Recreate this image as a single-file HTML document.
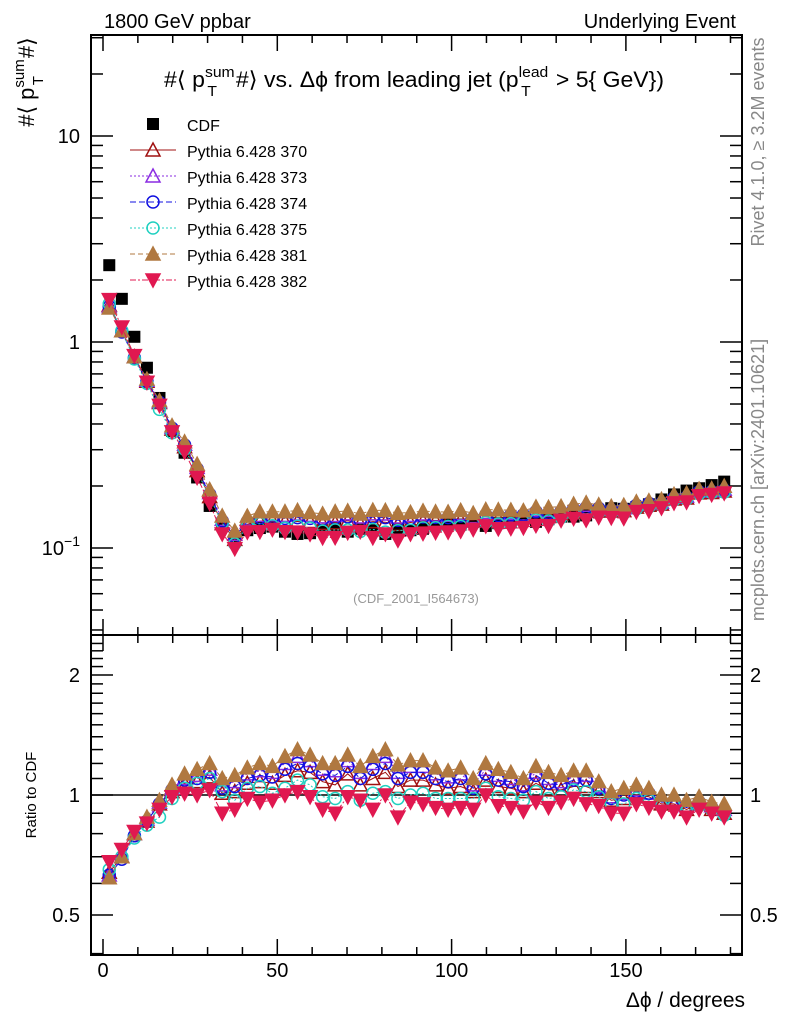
<!DOCTYPE html>
<html><head><meta charset="utf-8"><style>
body{margin:0;background:#fff;}
svg{display:block;font-family:"Liberation Sans",Arial,sans-serif;}
</style></head><body>
<svg id="chart" width="786" height="1024" viewBox="0 0 786 1024">
<text x="104" y="28" font-size="20">1800 GeV ppbar</text>
<text x="736" y="28" font-size="20" text-anchor="end">Underlying Event</text>
<text x="414" y="87" font-size="22" text-anchor="middle" textLength="500" lengthAdjust="spacingAndGlyphs">#⟨ p<tspan font-size="15" dy="-10">sum</tspan><tspan font-size="15" dx="-26" dy="19">T</tspan><tspan dy="-9" dx="18">#⟩ vs. Δϕ from leading jet  (p</tspan><tspan font-size="15" dy="-10">lead</tspan><tspan font-size="15" dx="-26" dy="19">T</tspan><tspan dy="-9" dx="18"> &gt; 5{ GeV})</tspan></text>
<text transform="translate(34,82) rotate(-90)" font-size="22" text-anchor="middle">#⟨ p<tspan font-size="15" dy="-10">sum</tspan><tspan font-size="15" dx="-26" dy="19">T</tspan><tspan dy="-9" dx="18">#⟩</tspan></text>
<text transform="translate(36,795) rotate(-90)" font-size="15" text-anchor="middle">Ratio to CDF</text>
<text x="745" y="1007" font-size="21" text-anchor="end">Δϕ / degrees</text>
<text transform="translate(764,142) rotate(-90)" font-size="18" fill="#888" text-anchor="middle">Rivet 4.1.0, ≥ 3.2M events</text>
<text transform="translate(764,480) rotate(-90)" font-size="18" fill="#888" text-anchor="middle">mcplots.cern.ch [arXiv:2401.10621]</text>
<text x="416" y="603" font-size="13" fill="#999" text-anchor="middle">(CDF_2001_I564673)</text>
<g id="axes"></g>
<g id="marks"></g>
<g id="legend"></g>
</svg>
<script>
const xCenters=[1.8,5.4,9,12.6,16.2,19.8,23.4,27,30.6,34.2,37.8,41.4,45,48.6,52.2,55.8,59.4,63,66.6,70.2,73.8,77.4,81,84.6,88.2,91.8,95.4,99,102.6,106.2,109.8,113.4,117,120.6,124.2,127.8,131.4,135,138.6,142.2,145.8,149.4,153,156.6,160.2,163.8,167.4,171,174.6,178.2];
const cdfValues=[2.36,1.62,1.06,0.75,0.535,0.37,0.29,0.22,0.16,0.13,0.108,0.122,0.125,0.127,0.12,0.117,0.118,0.122,0.125,0.12,0.124,0.122,0.117,0.124,0.122,0.124,0.128,0.13,0.13,0.134,0.128,0.132,0.134,0.138,0.134,0.138,0.142,0.142,0.144,0.15,0.156,0.155,0.158,0.163,0.172,0.182,0.19,0.195,0.202,0.21];
const ratio370=[0.64,0.70,0.80,0.86,0.95,1.02,1.07,1.08,1.11,1.01,1.02,1.07,1.08,1.07,1.12,1.15,1.14,1.08,1.06,1.13,1.06,1.10,1.14,1.05,1.09,1.09,1.06,1.04,1.05,1.02,1.09,1.05,1.04,1.02,1.07,1.03,1.03,1.05,1.05,1.02,0.97,0.98,1.00,0.99,0.95,0.95,0.92,0.95,0.92,0.90];
const ratio373=[0.63,0.70,0.80,0.87,0.96,1.04,1.10,1.12,1.16,1.06,1.08,1.13,1.15,1.14,1.20,1.25,1.22,1.16,1.15,1.22,1.14,1.20,1.25,1.14,1.18,1.18,1.13,1.11,1.13,1.06,1.16,1.12,1.10,1.06,1.14,1.10,1.08,1.11,1.12,1.05,0.99,1.01,1.03,1.01,0.97,0.97,0.94,0.97,0.94,0.92];
const ratio374=[0.63,0.69,0.79,0.86,0.95,1.03,1.09,1.10,1.14,1.04,1.05,1.10,1.12,1.11,1.16,1.20,1.18,1.13,1.12,1.18,1.10,1.16,1.20,1.10,1.14,1.14,1.10,1.08,1.10,1.04,1.13,1.09,1.08,1.05,1.12,1.07,1.06,1.09,1.09,1.04,0.98,1.00,1.02,1.01,0.96,0.96,0.93,0.96,0.93,0.91];
const ratio375=[0.65,0.70,0.78,0.84,0.88,0.98,1.04,1.07,1.10,1.02,0.97,1.04,1.05,1.01,1.04,1.09,1.06,0.99,0.98,1.02,0.97,1.01,1.02,0.98,1.00,1.01,0.98,0.98,0.98,0.98,1.04,0.99,0.98,0.97,1.02,0.98,0.99,1.03,1.02,0.99,0.95,0.95,0.98,0.97,0.94,0.94,0.91,0.94,0.92,0.89];
const ratio381=[0.62,0.70,0.80,0.88,0.97,1.06,1.13,1.16,1.20,1.10,1.12,1.17,1.20,1.18,1.25,1.30,1.26,1.20,1.20,1.26,1.18,1.25,1.30,1.19,1.22,1.22,1.17,1.15,1.17,1.10,1.20,1.16,1.14,1.10,1.18,1.14,1.12,1.15,1.15,1.08,1.02,1.04,1.06,1.04,1.00,1.00,0.97,0.99,0.96,0.95];
const ratio382=[0.68,0.73,0.81,0.85,0.92,0.99,1.01,1.00,1.03,0.90,0.92,0.98,0.96,0.97,1.00,1.02,0.99,0.92,0.90,0.99,0.97,0.92,1.00,0.88,0.96,0.95,0.93,0.92,0.93,0.92,1.00,0.94,0.93,0.91,0.96,0.93,0.96,0.98,0.95,0.94,0.90,0.90,0.95,0.93,0.91,0.91,0.88,0.92,0.90,0.88];
const seriesNames=["Pythia 6.428 370","Pythia 6.428 373","Pythia 6.428 374","Pythia 6.428 375","Pythia 6.428 381","Pythia 6.428 382"];
const xTicks=[0,50,100,150];
const mainYTicks=[10,1,0.1];
const ratioTicks=[2,1,0.5];

const NS="http://www.w3.org/2000/svg";
const L=91,R=742,T1=35,B1=635,T2=635,B2=955;
const xs=v=>103+(v)*3.486;
const ym=v=>342-206*Math.log10(v);
const yr=v=>795-398.6*Math.log10(v);
function mk(tag,attrs,parent){const e=document.createElementNS(NS,tag);for(const k in attrs)e.setAttribute(k,attrs[k]);parent.appendChild(e);return e;}
const axes=document.getElementById('axes'),marks=document.getElementById('marks'),legend=document.getElementById('legend');

let f1=mk('rect',{x:L,y:T1,width:R-L,height:B1-T1,fill:'none',stroke:'#000','stroke-width':2},axes);


let f2=mk('rect',{x:L,y:T2,width:R-L,height:B2-T2,fill:'none',stroke:'#000','stroke-width':2},axes);


for(let v=0;v<=180;v+=10){
  const x=xs(v),big=v%50===0,len=big?16:8;
  [[T1,1],[B1,-1],[T2,1],[B2,-1]].forEach(([y,d])=>{mk('line',{x1:x,x2:x,y1:y,y2:y+d*len,stroke:'#000','stroke-width':1.5},axes);});
}
xTicks.forEach(v=>{const t=mk('text',{x:xs(v),y:977,'font-size':20,'text-anchor':'middle'},axes);t.textContent=v;

});
for(let d=-2;d<=1;d++){for(let m=1;m<=9;m++){const v=m*Math.pow(10,d);const y=ym(v);if(y<T1||y>B1)continue;const len=m===1?22:12;
mk('line',{x1:L,x2:L+len,y1:y,y2:y,stroke:'#000','stroke-width':1.5},axes);mk('line',{x1:R,x2:R-len,y1:y,y2:y,stroke:'#000','stroke-width':1.5},axes);}}
mainYTicks.forEach(v=>{const t=mk('text',{x:80,y:ym(v)+7,'font-size':20,'text-anchor':'end'},axes);
if(v===0.1){t.textContent='10';const s=mk('tspan',{'font-size':14,dy:-9},t);s.textContent='−1';}else t.textContent=v;

});
for(let v=0.4;v<=2.5;v+=0.1){const y=yr(v);if(y<T2||y>B2)continue;const r=Math.round(v*10);const big=(r===5||r===10||r===20);const len=big?22:12;
mk('line',{x1:L,x2:L+len,y1:y,y2:y,stroke:'#000','stroke-width':1.5},axes);mk('line',{x1:R,x2:R-len,y1:y,y2:y,stroke:'#000','stroke-width':1.5},axes);}
ratioTicks.forEach(v=>{[[80,'end'],[750,'start']].forEach(([x,a])=>{const t=mk('text',{x:x,y:yr(v)+7,'font-size':20,'text-anchor':a},axes);t.textContent=v;

});});
mk('line',{x1:L,x2:R,y1:yr(1),y2:yr(1),stroke:'#000','stroke-width':1.5},axes);

const styles=[
 {c:'#a01010',shape:'tri',fill:'none',dash:''},
 {c:'#8a2be2',shape:'tri',fill:'none',dash:'2,2'},
 {c:'#1010e0',shape:'circ',fill:'none',dash:'6,3'},
 {c:'#20d0c0',shape:'circ',fill:'none',dash:'2,2'},
 {c:'#b07840',shape:'tri',fill:'#b07840',dash:'5,3'},
 {c:'#e01850',shape:'tridown',fill:'#e01850',dash:'6,2,2,2'}];
function marker(shape,x,y,st,parent,name){
 let e;
 if(shape==='tri')e=mk('polygon',{points:`${x},${y-7} ${x-7},${y+6} ${x+7},${y+6}`,fill:st.fill,stroke:st.c,'stroke-width':1.5},parent);
 else if(shape==='tridown')e=mk('polygon',{points:`${x},${y+7} ${x-7},${y-6} ${x+7},${y-6}`,fill:st.fill,stroke:st.c,'stroke-width':1.5},parent);
 else if(shape==='circ')e=mk('circle',{cx:x,cy:y,r:6,fill:'none',stroke:st.c,'stroke-width':1.5},parent);
 else e=mk('rect',{x:x-6,y:y-6,width:12,height:12,fill:'#000'},parent);
 
 
 return e;
}
cdfValues.forEach((v,i)=>marker('sq',xs(xCenters[i]),ym(v),{},marks,'cdf-point'));
const ratios=[ratio370,ratio373,ratio374,ratio375,ratio381,ratio382];
ratios.forEach((rs,si)=>{
 const st=styles[si];
 const mainPts=rs.map((r,i)=>[xs(xCenters[i]),ym(r*cdfValues[i])]);
 const ratPts=rs.map((r,i)=>[xs(xCenters[i]),yr(r)]);
 [mainPts,ratPts].forEach((pts,pi)=>{
  const pl=mk('polyline',{points:pts.map(p=>p.join(',')).join(' '),fill:'none',stroke:st.c,'stroke-width':1,'stroke-dasharray':st.dash},marks);
  
  
  pts.forEach(p=>marker(st.shape,p[0],p[1],st,marks,(pi?'ratio-point-':'mc-point-')+seriesNames[si].split(' ').pop()));
 });
});
const ly0=124;
marker('sq',153,ly0,{},legend,'legend-cdf-marker');
let lt=mk('text',{x:187,y:ly0+7,'font-size':16},legend);lt.textContent='CDF';


seriesNames.forEach((n,i)=>{const y=ly0+26*(i+1),st=styles[i];
 const ln=mk('line',{x1:130,x2:176,y1:y,y2:y,stroke:st.c,'stroke-width':1,'stroke-dasharray':st.dash},legend);
 
 
 marker(st.shape,153,y,st,legend,'legend-marker');
 const t=mk('text',{x:187,y:y+7,'font-size':16},legend);t.textContent=n;
 
 
});
</script>
</body></html>
